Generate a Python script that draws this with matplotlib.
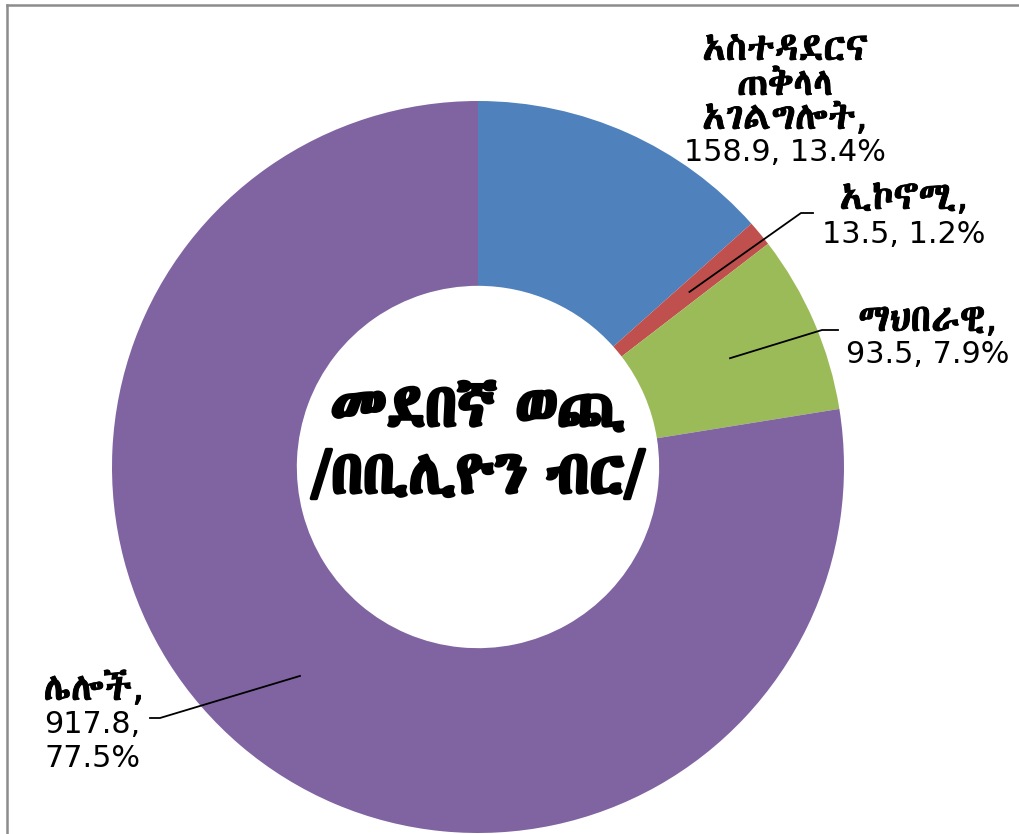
import os
import numpy as np
import matplotlib
matplotlib.use("Agg")
import matplotlib.pyplot as plt
from matplotlib import font_manager
from matplotlib.lines import Line2D
import matplotlib.patheffects as pe

# ---- data ----
categories = ["አስተዳደርና\nጠቅላላ\nአገልግሎት", "ኢኮኖሚ", "ማህበራዊ", "ሌሎች"]
values = [158.9, 13.5, 93.5, 917.8]
percent_labels = ["13.4%", "1.2%", "7.9%", "77.5%"]
colors = ["#4F81BD", "#C0504D", "#9BBB59", "#8064A2"]
center_title = ["መደበኛ ወጪ", "/በቢሊዮን ብር/"]

# ---- fonts ----
eth_family = "DejaVu Sans"
for p in ["/usr/share/fonts/truetype/google-fonts/AbyssinicaSIL-Regular.ttf"]:
    if os.path.exists(p):
        font_manager.fontManager.addfont(p)
        eth_family = font_manager.FontProperties(fname=p).get_name()
fam = ["DejaVu Sans", eth_family]

W, H = 1019, 834
fig = plt.figure(figsize=(W / 100, H / 100), dpi=100)

cx, cy, R = 478, 467, 366
ax = fig.add_axes([(cx - R) / W, (H - cy - R) / H, 2 * R / W, 2 * R / H])
wedges, _ = ax.pie(values, colors=colors, startangle=90, counterclock=False,
                   radius=1.0, wedgeprops=dict(width=0.505, linewidth=0))
ax.set_xlim(-1, 1)
ax.set_ylim(-1, 1)
ax.set_aspect("equal")
ax.axis("off")

def px2d(px, py):
    return (px - cx) / R, (cy - py) / R

eth_fx = [pe.withStroke(linewidth=0.6, foreground="black")]

def put(text, px, py, size=21.8, ethiopic=False, ha="center"):
    x, y = px2d(px, py)
    ax.text(x, y, text, ha=ha, va="baseline",
            fontsize=27.5 if ethiopic else size, family=fam,
            color="black", clip_on=False,
            path_effects=eth_fx if ethiopic else None)

# midpoint angles of wedges
theta = [(w.theta1 + w.theta2) / 2 for w in wedges]
def mid(i, r=0.75):
    a = np.deg2rad(theta[i])
    return r * np.cos(a), r * np.sin(a)

# labels
names = [c.split("\n") for c in categories]
# blue
bx = 785
for line, by in zip(names[0], [60, 95, 129]):
    put(line + ("," if line == names[0][-1] else ""), bx, by, ethiopic=True)
put(f"{values[0]}, {percent_labels[0]}", bx, 161)
# red
put(names[1][0] + ",", 904, 209, ethiopic=True)
put(f"{values[1]}, {percent_labels[1]}", 904, 243)
# green
put(names[2][0] + ",", 928, 331, ethiopic=True)
put(f"{values[2]}, {percent_labels[2]}", 928, 363)
# purple
put(names[3][0] + ",", 94, 700, ethiopic=True)
put(f"{values[3]},", 92, 733)
put(percent_labels[3], 92, 767)

# leader lines
def leader(i, elbow_px, end_px):
    x0, y0 = mid(i)
    x1, y1 = px2d(*elbow_px)
    x2, y2 = px2d(*end_px)
    ax.add_line(Line2D([x0, x1, x2], [y0, y1, y2], color="black", lw=1.3,
                       clip_on=False))
leader(1, (801, 213), (813, 213))
leader(2, (822, 330), (838, 330))
leader(3, (160, 718), (150, 718))

# center title
bold_fx = [pe.withStroke(linewidth=2.4, foreground="black")]
for line, py in zip(center_title, [426, 493]):
    x, y = px2d(478, py)
    ax.text(x, y, line, ha="center", va="baseline", fontsize=43, family=fam,
            color="black", path_effects=bold_fx)

# chart frame (left and top edges visible)
fig.add_artist(Line2D([7 / W, 7 / W], [0, 1 - 5 / H], color="#8C8C8C", lw=1.8))
fig.add_artist(Line2D([7 / W, 1], [1 - 5 / H, 1 - 5 / H], color="#8C8C8C", lw=1.8))

fig.savefig("out.png", dpi=100)
